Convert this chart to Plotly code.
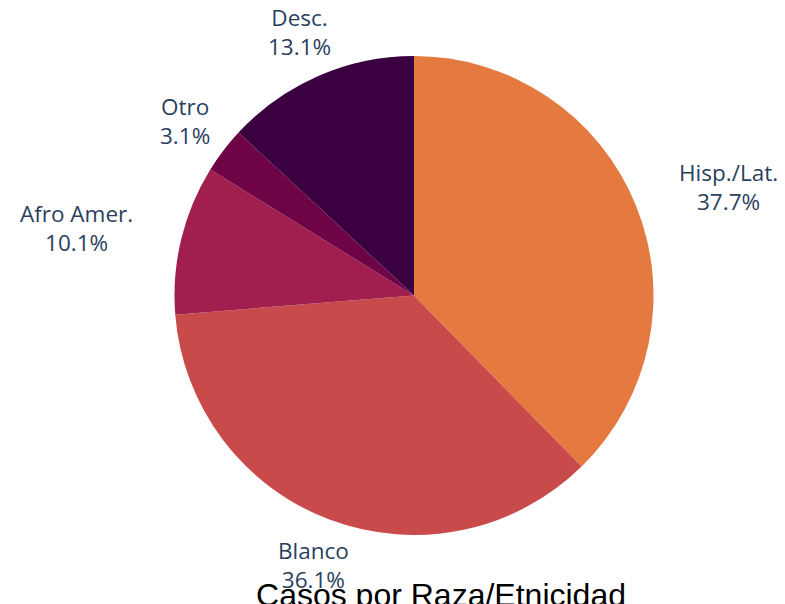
import math
import plotly.graph_objects as go

labels = ["Hisp./Lat.", "Blanco", "Afro Amer.", "Otro", "Desc."]
values = [37.7, 36.1, 10.1, 3.1, 13.1]
colors = ["#E47A40", "#C94A4A", "#A01F4E", "#6E0346", "#3A0040"]
title_text = "Casos por Raza/Etnicidad"

W, H = 785, 604
ML, MR, MT, MB = 93, 66, 48, 77
plot_w = W - ML - MR
plot_h = H - MT - MB
pie_r = min(plot_w, plot_h) / 2
label_r = 1.2 * pie_r

fig = go.Figure(go.Pie(
    labels=labels,
    values=values,
    sort=False,
    direction="clockwise",
    rotation=0,
    marker=dict(colors=colors),
    textinfo="none",
    textposition="none",
    showlegend=False,
))

# outside labels placed along each slice's mid-angle
total = sum(values)
cum = 0.0
annotations = []
for lab, v in zip(labels, values):
    theta = 2 * math.pi * (cum + v / 2) / total
    cum += v
    dx = math.sin(theta)
    dy = math.cos(theta)
    xanchor = "left" if dx > 0.85 else ("right" if dx < -0.85 else "center")
    annotations.append(dict(
        text=f"{lab}<br>{v / total * 100:.1f}%",
        x=0.5 + label_r * dx / plot_w,
        y=0.5 + label_r * dy / plot_h,
        xref="paper", yref="paper",
        xanchor=xanchor, yanchor="middle",
        xshift=-3 if xanchor == "left" else 0,
        showarrow=False,
        font=dict(family="Open Sans", size=22.5, color="#2a3f5f"),
    ))

fig.update_layout(
    width=W, height=H,
    margin=dict(l=ML, r=MR, t=MT, b=MB),
    paper_bgcolor="white",
    plot_bgcolor="white",
    annotations=annotations,
    title=dict(
        text=title_text,
        font=dict(family="Liberation Sans, Arial", size=32, color="black"),
        x=433 / 785, xanchor="center",
        y=0.028, yanchor="middle",
        xref="container", yref="container",
    ),
)

fig.write_html("out.html")
